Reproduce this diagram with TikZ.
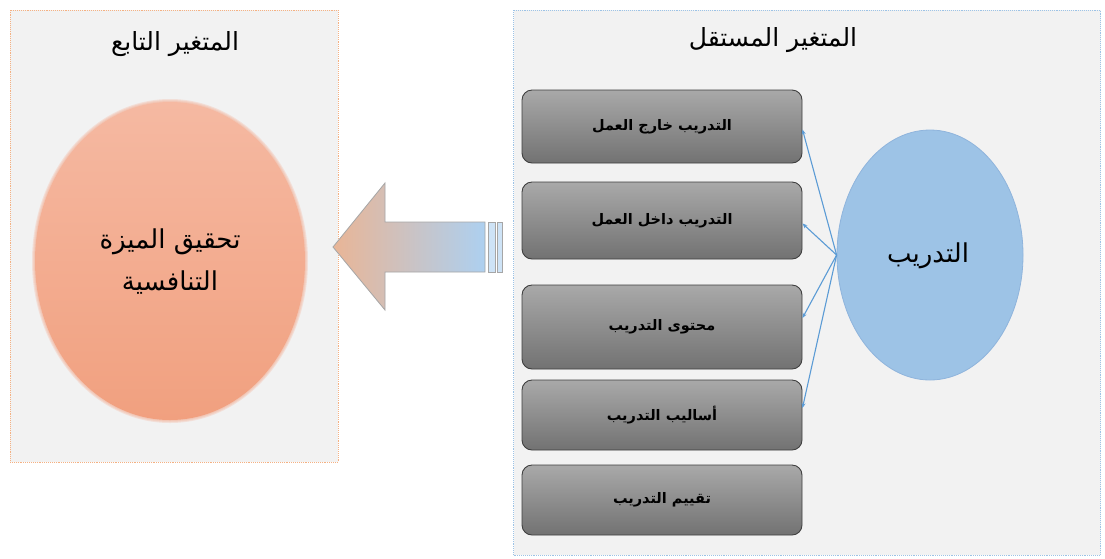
\documentclass[tikz,border=0pt]{standalone}
\usepackage{fontspec}
\newfontfamily\arabicfont[Script=Arabic]{DejaVu Sans}
\TeXXeTstate=1
\usetikzlibrary{shapes.geometric,arrows.meta}
\definecolor{panelfill}{HTML}{F2F2F2}
\definecolor{orangeborder}{HTML}{F4B183}
\definecolor{blueborder}{HTML}{9DC3E6}
\definecolor{salmon}{HTML}{F3A98C}
\definecolor{salmontop}{HTML}{F5B9A2}
\definecolor{salmonbot}{HTML}{F1A07F}
\definecolor{skyfill}{HTML}{9DC3E6}
\definecolor{skyedge}{HTML}{8FB4DC}
\definecolor{connblue}{HTML}{5B9BD5}
\definecolor{boxtop}{HTML}{A9A9A9}
\definecolor{boxbot}{HTML}{727272}
\definecolor{boxedge}{HTML}{3F3F3F}
\definecolor{arrowleft}{HTML}{E9B596}
\definecolor{arrowright}{HTML}{ADD0F0}
\definecolor{arrowedge}{HTML}{A6A6A6}
\tikzset{
  panel/.style={rectangle, fill=panelfill, densely dotted, line width=0.9pt, inner sep=0pt},
  paneltitle/.style={font=\arabicfont\fontsize{25}{30}\selectfont, text=black},
  itembox/.style={rectangle, rounded corners=10pt, top color=boxtop, bottom color=boxbot, draw=boxedge, line width=0.9pt, minimum width=280pt, inner sep=0pt, font=\arabicfont\bfseries\fontsize{14.5}{17}\selectfont},
  conn/.style={draw=connblue, line width=1.1pt, -{Stealth[length=5pt,width=4pt]}},
  bigtext/.style={font=\arabicfont\fontsize{26}{42}\selectfont, align=center}
}
\begin{document}
\begin{tikzpicture}[x=1pt,y=-1pt]
\useasboundingbox (0,0) rectangle (1105,558);
\fill[white] (0,0) rectangle (1105,558);
% panels
\node[panel, draw=orangeborder, minimum width=328pt, minimum height=452pt] (dep) at (174,236) {};
\node[panel, draw=blueborder, minimum width=587pt, minimum height=545pt] (indep) at (807,282.5) {};
\node[paneltitle] (deptitle) at (175,44) {\beginR المتغير التابع\endR};
\node[paneltitle] (indeptitle) at (773,40) {\beginR المتغير المستقل\endR};
% soft salmon ellipse
\foreach \d in {3,2,1}{
  \fill[salmon, opacity=0.25] (170,261) ellipse ({135+\d} and {159+\d});
}
\node[ellipse, top color=salmontop, bottom color=salmonbot, minimum width=270pt, minimum height=318pt, inner sep=0pt] (adv) at (170,261) {};
\node[bigtext] (advtext) at (170,262) {\beginR تحقيق الميزة\endR\\\beginR التنافسية\endR};
% big arrow
\shade[left color=arrowleft, right color=arrowright, draw=arrowedge, line width=0.8pt]
  (333,247) -- (385,183) -- (385,222) -- (485,222) -- (485,272) -- (385,272) -- (385,310) -- cycle;
\fill[arrowright!60!white, draw=arrowedge, line width=0.8pt] (488,222) rectangle (495,272);
\fill[arrowright!60!white, draw=arrowedge, line width=0.8pt] (497,222) rectangle (502,272);
% training ellipse
\node[ellipse, fill=skyfill, draw=skyedge, line width=0.8pt, minimum width=186pt, minimum height=250pt, inner sep=0pt] (tr) at (930,255) {};
\node[font=\arabicfont\fontsize{26}{32}\selectfont] (trtext) at (928,256) {\beginR التدريب\endR};
% item boxes
\node[itembox, minimum height=73pt] (b1) at (662,126.5) {\beginR التدريب خارج العمل\endR};
\node[itembox, minimum height=77pt] (b2) at (662,220.5) {\beginR التدريب داخل العمل\endR};
\node[itembox, minimum height=84pt] (b3) at (662,327) {\beginR محتوى التدريب\endR};
\node[itembox, minimum height=70pt] (b4) at (662,415) {\beginR أساليب التدريب\endR};
\node[itembox, minimum height=70pt] (b5) at (662,500) {\beginR تقييم التدريب\endR};
% connectors
\coordinate (src) at (tr.west);
\draw[conn] (src) -- ([yshift=-3pt]b1.east);
\draw[conn] (src) -- ([yshift=-3pt]b2.east);
\draw[conn] (src) -- ([yshift=9pt]b3.east);
\draw[conn] (src) -- ([yshift=7pt]b4.east);
\end{tikzpicture}
\end{document}
